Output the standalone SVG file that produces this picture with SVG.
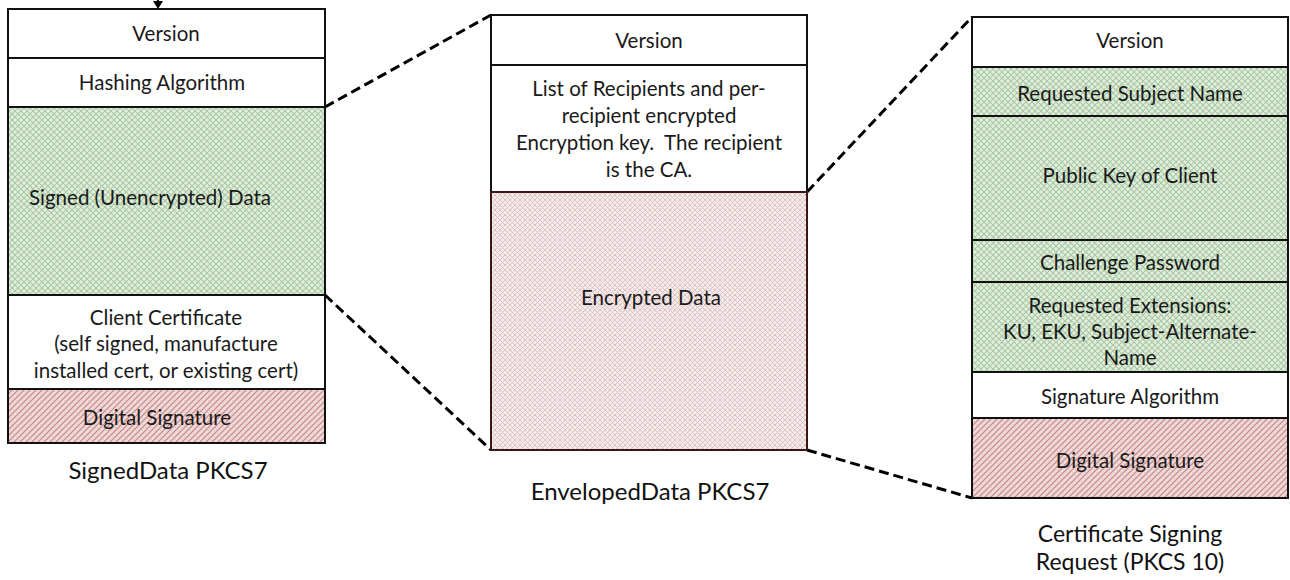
<svg xmlns="http://www.w3.org/2000/svg" width="1290" height="580" viewBox="0 0 1290 580">
<defs>
<pattern id="green" width="6" height="6" patternUnits="userSpaceOnUse">
<rect width="6" height="6" fill="#e2eedf"/>
<path d="M0,0 L6,6 M6,0 L0,6" stroke="#a8c9a2" stroke-width="1.1"/>
</pattern>
<pattern id="red" width="6" height="6" patternUnits="userSpaceOnUse">
<rect width="6" height="6" fill="#f1dcdc"/>
<path d="M0,6 L6,0 M-1,1 L1,-1 M5,7 L7,5" stroke="#c98f8f" stroke-width="1.3"/>
<path d="M0,0 L6,6" stroke="#e0b8b8" stroke-width="0.8"/>
</pattern>
<pattern id="pink" width="5" height="5" patternUnits="userSpaceOnUse">
<rect width="5" height="5" fill="#f5ebeb"/>
<path d="M0,0 L5,5 M5,0 L0,5" stroke="#dcc3c3" stroke-width="1"/>
</pattern>
</defs>
<style>
.b{stroke:#111;stroke-width:2}
.w{fill:#fff}
.g{fill:url(#green)}
.r{fill:url(#red)}
.p{fill:url(#pink);stroke:#3a1616;stroke-width:2}
text{font-family:Lato,"Open Sans","Liberation Sans",sans-serif;font-size:20.5px;fill:#1a1a1a;text-anchor:middle;dominant-baseline:central;white-space:pre}
.cap{font-size:24px;fill:#111}
.cap2{font-size:23px;fill:#111}
.dash{stroke:#000;stroke-width:3;stroke-dasharray:10,5;fill:none}
</style>

<g id="connectors">
<line class="dash" x1="325" y1="107" x2="491" y2="15"/>
<line class="dash" x1="325" y1="295" x2="491" y2="450"/>
<line class="dash" x1="807" y1="192" x2="972" y2="17"/>
<line class="dash" x1="807" y1="450" x2="972" y2="498"/>
<line x1="158" y1="0" x2="158" y2="2" stroke="#000" stroke-width="2"/>
<path d="M153,1 L163,1 L158,9 Z" fill="#000"/>
</g>

<g id="signed-data">
<rect class="b w" x="8" y="9" width="317" height="49"/>
<text x="166" y="33">Version</text>
<rect class="b w" x="8" y="58" width="317" height="49"/>
<text x="162" y="82">Hashing Algorithm</text>
<rect class="b g" x="8" y="107" width="317" height="188"/>
<text x="150" y="197">Signed (Unencrypted) Data</text>
<rect class="b w" x="8" y="295" width="317" height="94"/>
<text x="166" y="317">Client Certificate</text>
<text x="166" y="343">(self signed, manufacture</text>
<text x="166" y="370">installed cert, or existing cert)</text>
<rect class="b r" x="8" y="389" width="317" height="54"/>
<text x="157" y="417">Digital Signature</text>
<text class="cap" x="168" y="469">SignedData PKCS7</text>
</g>

<g id="enveloped-data">
<rect class="b w" x="491" y="15" width="316" height="50"/>
<text x="649" y="40">Version</text>
<rect class="b w" x="491" y="65" width="316" height="127"/>
<text x="649" y="88">List of Recipients and per-</text>
<text x="649" y="115">recipient encrypted</text>
<text x="649" y="142">Encryption key.  The recipient</text>
<text x="649" y="169">is the CA.</text>
<rect class="p" x="491" y="192" width="316" height="258"/>
<text x="651" y="297">Encrypted Data</text>
<text class="cap" x="650" y="490">EnvelopedData PKCS7</text>
</g>

<g id="csr">
<rect class="b w" x="972" y="17" width="316" height="50"/>
<text x="1130" y="40">Version</text>
<rect class="b g" x="972" y="67" width="316" height="49"/>
<text x="1130" y="93">Requested Subject Name</text>
<rect class="b g" x="972" y="116" width="316" height="124"/>
<text x="1130" y="175">Public Key of Client</text>
<rect class="b g" x="972" y="240" width="316" height="42"/>
<text x="1130" y="262">Challenge Password</text>
<rect class="b g" x="972" y="282" width="316" height="90"/>
<text x="1130" y="305">Requested Extensions:</text>
<text x="1130" y="331">KU, EKU, Subject-Alternate-</text>
<text x="1130" y="357">Name</text>
<rect class="b w" x="972" y="372" width="316" height="46"/>
<text x="1130" y="396">Signature Algorithm</text>
<rect class="b r" x="972" y="418" width="316" height="80"/>
<text x="1130" y="460">Digital Signature</text>
<text class="cap2" x="1130" y="533">Certificate Signing</text>
<text class="cap2" x="1130" y="561">Request (PKCS 10)</text>
</g>
</svg>
